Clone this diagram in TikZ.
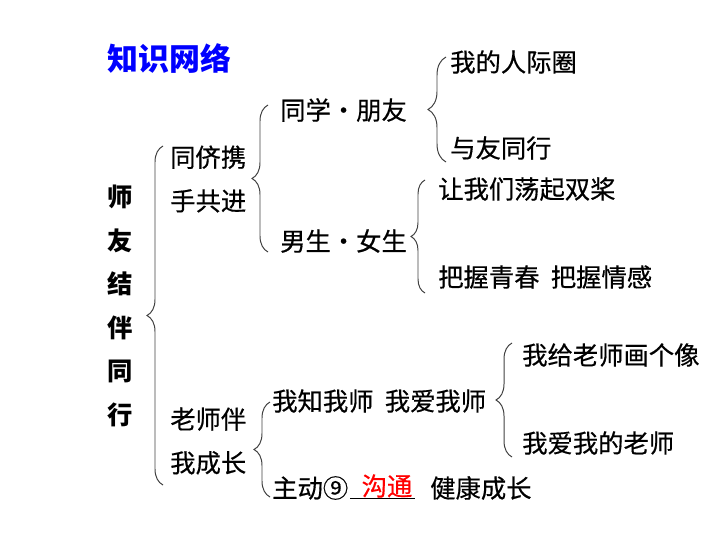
\documentclass[tikz,border=0pt]{standalone}
\usepackage{fontspec}
\setmainfont{Noto Sans CJK SC}
\newfontfamily\heavy{Noto Sans CJK SC}[FakeBold=0.5]
\usetikzlibrary{decorations.pathreplacing}

\tikzset{
    item/.style = {anchor = west, inner sep = 0pt, font = \heavy\fontsize{18}{20}\selectfont},
    stack/.style = {item, align = left, font = \heavy\fontsize{18}{31}\selectfont},
    curly/.style = {draw = black!75, line width = .7pt, decorate,
        decoration = {brace, amplitude = #1}},
    curly/.default = 0.4cm
}

\begin{document}
\begin{tikzpicture}[x = 0.025cm, y = -0.025cm]
    \useasboundingbox (0, 0) rectangle (720, 540);

    \node [item, font = \fontsize{22}{24}\selectfont\bfseries, text = blue] (title) at (107, 58) {知识网络};

    % main column
    \node [anchor = center, inner sep = 0pt, align = center, font = \fontsize{18}{31}\selectfont\bfseries] (theme) at (120, 306) {师\\友\\结\\伴\\同\\行};
    \node [stack] (peer) at (170, 179) {同侪携\\手共进};
    \node [stack] (teacher) at (170, 441) {老师伴\\我成长};

    % peers
    \node [item] (classmate) at (280, 110) {同学・朋友};
    \node [item] (gender) at (280, 241) {男生・女生};
    \node [item] (circle) at (450, 62) {我的人际圈};
    \node [item] (together) at (450, 148) {与友同行};
    \node [item] (oars) at (438, 189) {让我们荡起双桨};
    \node [item] (youth) at (438, 277) {把握青春\ \ 把握情感};

    % teachers
    \node [item] (know) at (272, 401) {我知我师\ \ 我爱我师};
    \node [item] (active) at (272, 488) {主动⑨};
    \node [inner sep = 0pt, text = red, font = \heavy\fontsize{18}{20}\selectfont] (answer) at (387, 486) {沟通};
    \node [item] (health) at (430, 488) {健康成长};
    \node [item] (portrait) at (522, 355) {我给老师画个像};
    \node [item] (mine) at (522, 443) {我爱我的老师};

    \coordinate (blankL) at (350, 498);
    \coordinate (blankR) at (415, 498);
    \draw [line width = .7pt] (blankL) -- (blankR);

    % braces
    \draw [curly] (163, 485) -- (163, 146);
    \draw [curly] (268, 252) -- (268, 105);
    \draw [curly = 0.45cm] (446, 162) -- (446, 57);
    \draw [curly = 0.35cm] (425, 293) -- (425, 180);
    \draw [curly] (270, 497) -- (270, 402);
    \draw [curly] (512, 457) -- (512, 343);
\end{tikzpicture}
\end{document}
